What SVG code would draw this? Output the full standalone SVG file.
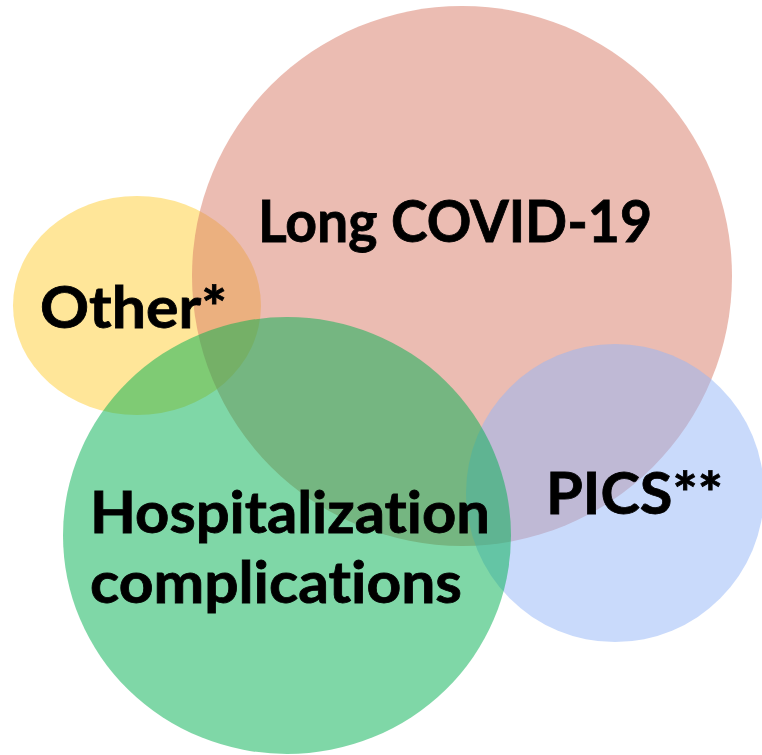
<svg xmlns="http://www.w3.org/2000/svg" width="762" height="755" viewBox="0 0 762 755">
  <style>
    .disc { stroke: none; }
    .other { fill: #FFC000; fill-opacity: 0.4; }
    .longcovid { fill: #D87965; fill-opacity: 0.5; }
    .pics { fill: #93B5F7; fill-opacity: 0.5; }
    .hosp { fill: #00B050; fill-opacity: 0.5; }
    .label { font-family: "Lato", "Liberation Sans", sans-serif; font-weight: 700; font-size: 57px; fill: #000000;
             stroke: #000000; stroke-width: 0.8; font-variant-ligatures: none; font-feature-settings: "liga" 0, "dlig" 0; }
  </style>
  <rect width="762" height="755" fill="#FFFFFF"/>

  <!-- overlapping sets, drawn bottom to top -->
  <g id="node-other">
    <ellipse class="disc other" cx="137" cy="305.5" rx="124" ry="109.5"/>
  </g>
  <g id="node-long-covid">
    <circle class="disc longcovid" cx="462" cy="276" r="270"/>
  </g>
  <g id="node-pics">
    <ellipse class="disc pics" cx="615" cy="493" rx="149" ry="149"/>
  </g>
  <g id="node-hospitalization">
    <ellipse class="disc hosp" cx="287" cy="535.5" rx="224" ry="218.5"/>
  </g>

  <!-- set labels sit above every disc -->
  <g id="labels">
    <text id="label-long-covid" class="label" x="258" y="242" textLength="394" lengthAdjust="spacingAndGlyphs">Long COVID-19</text>
    <text id="label-other" class="label" x="40" y="328" textLength="187" lengthAdjust="spacingAndGlyphs">Other*</text>
    <text id="label-pics" class="label" x="546" y="514" textLength="177" lengthAdjust="spacingAndGlyphs">PICS**</text>
    <text id="label-hosp-1" class="label" x="90" y="533" textLength="400" lengthAdjust="spacingAndGlyphs">Hospitalization</text>
    <text id="label-hosp-2" class="label" x="90" y="603" textLength="372" lengthAdjust="spacingAndGlyphs">complications</text>
  </g>
</svg>
